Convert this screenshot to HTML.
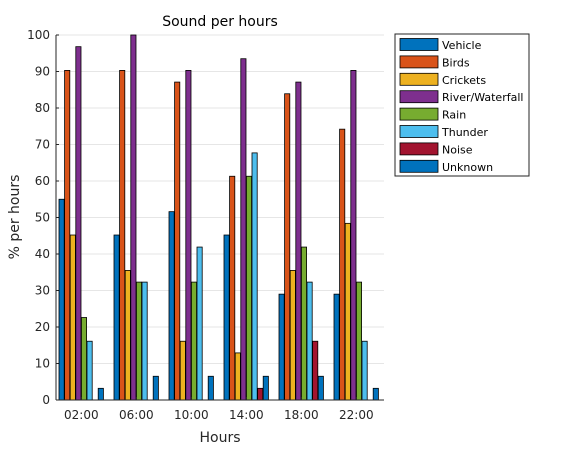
<!DOCTYPE html>
<html><head><meta charset="utf-8"><style>
body{margin:0;background:#fff;font-family:"DejaVu Sans",sans-serif}
svg text{font-family:"DejaVu Sans",sans-serif}
</style></head><body>
<svg id="c" width="570" height="450"></svg>
<script>
const categories=["02:00","06:00","10:00","14:00","18:00","22:00"];
const seriesNames=["Vehicle","Birds","Crickets","River/Waterfall","Rain","Thunder","Noise","Unknown"];
const vehicle=[55,45.2,51.6,45.2,29,29];
const birds=[90.3,90.3,87.1,61.3,83.9,74.2];
const crickets=[45.2,35.5,16.1,12.9,35.5,48.4];
const river=[96.8,100,90.3,93.5,87.1,90.3];
const rain=[22.6,32.3,32.3,61.3,41.9,32.3];
const thunder=[16.1,32.3,41.9,67.7,32.3,16.1];
const noise=[0,0,0,3.2,16.1,0];
const unknown=[3.2,6.5,6.5,6.5,6.5,3.2];
const yTicks=[0,10,20,30,40,50,60,70,80,90,100];
const series=[vehicle,birds,crickets,river,rain,thunder,noise,unknown];
const colors=["#0072BD","#D95319","#EDB120","#7E2F8E","#77AC30","#4DBEEE","#A2142F","#0072BD"];
const NS="http://www.w3.org/2000/svg",svg=document.getElementById('c');
function el(t,a,txt){const e=document.createElementNS(NS,t);for(const k in a)e.setAttribute(k,a[k]);if(txt!=null)e.textContent=txt;svg.appendChild(e);return e;}
const L=56,R=384,T=35,B=400;
const y=v=>B-(v/100)*(B-T);
const gStart=i=>59+i*55, pitch=5.6, bw=5.2;
for(const t of yTicks){
 const g=el('line',{x1:L,x2:R,y1:y(t),y2:y(t),stroke:'#e6e6e6'});
 
 const tx=el('text',{x:L-6,y:y(t)+4,'text-anchor':'end','font-size':12,fill:'#262626'},t);
 
 el('line',{x1:L,x2:L+3,y1:y(t),y2:y(t),stroke:'#262626'});
}
categories.forEach((c,i)=>{
 series.forEach((s,j)=>{
  if(s[i]<=0)return;
  const r=el('rect',{x:gStart(i)+j*pitch,y:y(s[i]),width:bw,height:B-y(s[i]),fill:colors[j],stroke:'#000','stroke-width':0.8});
  
  
 });
 const cx=gStart(i)+22.3;
 el('line',{x1:cx,x2:cx,y1:B,y2:B-3,stroke:'#262626'});
 const tx=el('text',{x:cx,y:B+19,'text-anchor':'middle','font-size':12,fill:'#262626'},c);
 
});
el('line',{x1:L,x2:L,y1:T,y2:B,stroke:'#262626'});
el('line',{x1:L,x2:R,y1:B,y2:B,stroke:'#262626'});
const ti=el('text',{x:220,y:26,'text-anchor':'middle','font-size':14,fill:'#000'},'Sound per hours');

const xl=el('text',{x:220,y:442,'text-anchor':'middle','font-size':14,fill:'#262626'},'Hours');

const yl=el('text',{x:0,y:0,'text-anchor':'middle','font-size':14,fill:'#262626',transform:'translate(19,217) rotate(-90)'},'% per hours');

const lb=el('rect',{x:395,y:34,width:134,height:142,fill:'#fff',stroke:'#262626'});

seriesNames.forEach((n,j)=>{
 const yy=38.5+j*17.4;
 el('rect',{x:400,y:yy,width:38,height:12,fill:colors[j],stroke:'#000','stroke-width':0.8});
 const t=el('text',{x:442,y:yy+10.5,'font-size':11,fill:'#000'},n);
 
});
</script>
</body></html>
